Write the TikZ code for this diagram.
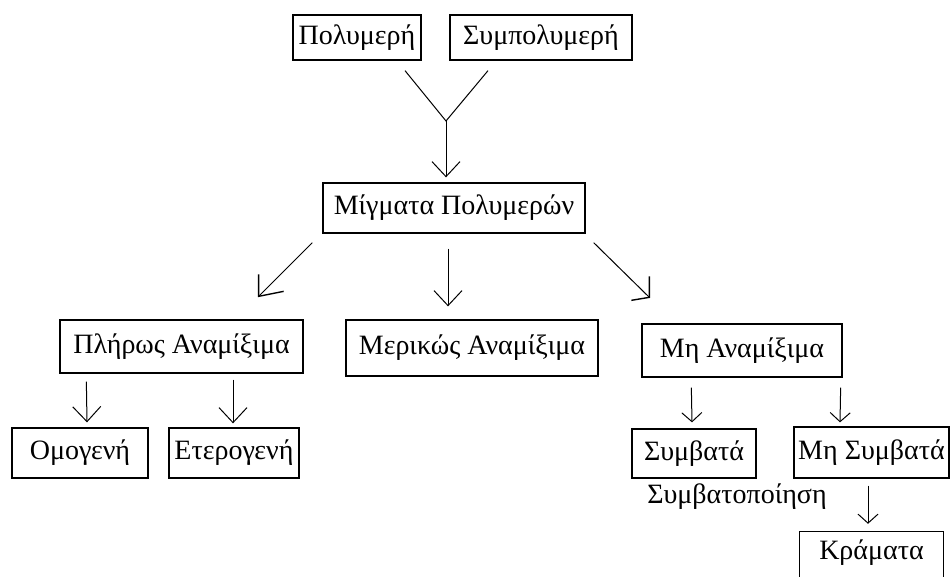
\documentclass[tikz,border=0pt]{standalone}
\usepackage{fontspec}
\setmainfont{Liberation Serif}
\usetikzlibrary{arrows.meta,calc}
\begin{document}
\begin{tikzpicture}[x=1pt,y=-1pt,
  txt/.style={font=\fontsize{28}{33}\selectfont},
  box/.style={txt,draw,line width=1.3pt,inner sep=0pt},
  lbl/.style={txt,inner sep=0pt},
  conn/.style={line width=1pt},
  arr/.style={conn,-{Straight Barb[length=15pt,width=28pt]}},
  arrs/.style={conn,-{Straight Barb[length=9pt,width=20pt]}}]
\clip (0,0) rectangle (951,577);
\fill[white] (0,0) rectangle (951,577);
% nodes
\node[box,minimum width=128pt,minimum height=45pt] (pol) at (357,37.5) {Πολυμερή};
\node[box,minimum width=182pt,minimum height=45pt] (sym) at (541,37.5) {Συμπολυμερή};
\node[box,minimum width=262pt,minimum height=50pt] (mig) at (454,208) {Μίγματα Πολυμερών};
\node[box,minimum width=243pt,minimum height=53pt] (plir) at (181.5,346.5) {Πλήρως Αναμίξιμα};
\node[box,minimum width=252pt,minimum height=56pt] (mer) at (472,348) {Μερικώς Αναμίξιμα};
\node[box,minimum width=200pt,minimum height=53pt] (mi) at (742,350.5) {Μη Αναμίξιμα};
\node[box,minimum width=136pt,minimum height=50pt] (omo) at (80,453) {Ομογενή};
\node[box,minimum width=130pt,minimum height=50pt] (ete) at (234,453) {Ετερογενή};
\node[box,minimum width=124pt,minimum height=49pt] (symb) at (694,453.5) {Συμβατά};
\node[box,minimum width=155pt,minimum height=51pt] (misymb) at (871.5,452.5) {Μη Συμβατά};
\node[lbl,minimum width=143pt,minimum height=42pt] (kram) at (871.5,553) {Κράματα};
\draw[line width=1.3pt] ($(kram.south west)+(0,20)$) -- (kram.north west) -- (kram.north east) -- ($(kram.south east)+(0,20)$);
\node[lbl] (symbp) at (737,497) {Συμβατοποίηση};
% Y junction
\coordinate (ya) at ($(pol.south)+(48,10)$);
\coordinate (yb) at ($(sym.south)+(-53,10)$);
\coordinate (ym) at (446,121);
\draw[conn] (ya) -- (ym) -- (yb);
\draw[arr] (ym) -- ($(mig.north)+(-8,-5)$);
% from mig
\coordinate (h1) at ($(plir.north east)+(-45,-23)$);
\draw[conn] ($(mig.south west)+(-10,9)$) -- (h1);
\draw[line width=1.4pt] ($(h1)+(0,-22)$) -- (h1) -- ($(h1)+(25,-5)$);
\draw[arr] ($(mig.south)+(-6,15)$) -- ($(mer.north)+(-24,-13)$);
\coordinate (h2) at ($(mi.north west)+(8,-26)$);
\draw[conn] ($(mig.south east)+(8,9)$) -- (h2);
\draw[line width=1.4pt] ($(h2)+(0,-21)$) -- (h2) -- ($(h2)+(-18,3)$);
% lower arrows
\draw[arr] ($(plir.south west)+(27,8)$) -- ($(omo.north)+(7,-5)$);
\draw[arr] ($(plir.south)+(51.5,6)$) -- ($(ete.north)+(-1,-4)$);
\draw[arrs] ($(mi.south west)+(50,10)$) -- ($(symb.north)+(-2,-6)$);
\draw[arrs] ($(mi.south east)+(-2,10)$) -- ($(misymb.north)+(-31.5,-4)$);
\draw[arrs] ($(misymb.south)+(-3.5,7)$) -- ($(kram.north)+(-3.5,-8)$);
\end{tikzpicture}
\end{document}
